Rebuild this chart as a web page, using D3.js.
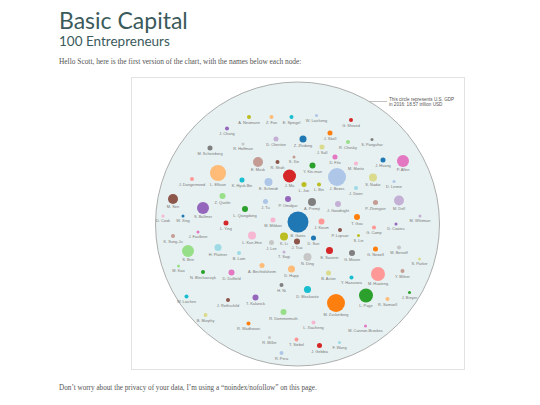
<!DOCTYPE html>
<html>
<head>
<meta charset="utf-8">
<script src="https://cdn.jsdelivr.net/npm/d3@7"></script>
<style>
  html, body { margin: 0; padding: 0; background: #fff; }
  svg { display: block; }
</style>
</head>
<body>
<svg id="chart" width="540" height="405"></svg>
<script>
// ---------------- DATA ----------------
const gdpValue = 18570; // U.S. GDP 2016, billion USD

const names = [
  "A. Neumann","Z. Fan","E. Spiegel","W. Laisheng","G. Shroed","J. Chang","J. Skoll","R. Hoffman","M. Scheinberg","D. Cheriton",
  "Z. Zhidong","R. Chesky","S. Panguhar","J. Sall","D. Filo","S. Xie","E. Musk","R. Shah","Y. Kin-man","M. Moritz",
  "J. Huang","P. Allen","L. Ellison","J. Dangermond","K. Hyuk-Bin","E. Schmidt","J. Ma","L. Jun","L. Bin","J. Bezos",
  "J. Doerr","S. Nadar","D. Leone","Z. Quofei","M. Sen","S. Ballmer","L. Qiangdong","J. Tu","P. Omidyar","D. Cook",
  "W. Xing","L. Ying","M. Mildani","B. Gates","J. Faulkner","K. Sung-Ju","L. Kun-Hee","J. Lee","K. Li","J. Tsai",
  "S. Brin","H. Plattner","B. Lam","T. Sagi","M. Kao","N. Blecharczyk","D. Duffield","A. Bechtolsheim","D. Happ","A. Premji",
  "J. Goodnight","P. Zhengxin","M. Dell","T. Gou","J. Koum","G. Camp","D. Coates","P. Lupsan","S. Lin","D. Sun",
  "E. Saverin","G. Moore","G. Newell","M. Benioff","N. Ding","M. Whitman","S. Parker","Y. Milner","B. Acton","Y. Hazarova",
  "M. Huateng","D. Moskovitz","M. Zuckerberg","L. Page","R. Samuell","J. Breyer","L. Xiacheng","M. Cannon-Brookes","T. Siebel","J. Gebbia",
  "F. Wang","H. Ni","W. Laichen","J. Rothschild","T. Kalanick","B. Murphy","R. Dommermuth","R. Wadhwani","R. Miller","R. Pera"
];

// layout coordinates of each node (same units as the GDP circle, whose extent is 155.5..439.5 / 82..366)
const posX = [
  249,271.5,291.5,316.5,351,227,330,243,210,276,
  303,348,372,322,335,294,258,277.5,312.5,356,
  383,403,218,192,242,268.5,289.5,304,319,337,
  356,373,394,222.5,173,203,245,265.5,288,163,
  183,226,273,298,198,173,252,271.5,284,297,
  188,218,239,284,178.5,203,231.5,262,291.5,312,
  338,375.5,399,357,321.5,374,396,340,358.5,313.5,
  329.5,352,375.5,399,307.5,420,419.5,402.5,328.5,351.5,
  378,307.5,336,366,387.5,409.5,313.5,365.5,296.5,319.5,
  339.5,281.5,186.5,228,255.5,205.5,283.5,248.5,269.5,281.5
];
const posY = [
  117,117,117,115.5,120,128.5,133,144,148,139,
  139,142,139.5,147,157,157,162,162,165.5,163.5,
  160,161,173,179,180,182,176,184.5,184.5,177,
  188,177.5,181.5,196,199,208,209,201.5,199,216,
  216,223,220,222,232,236,235.5,242.5,236.5,241.5,
  251,247.5,253,252,266,272,272.5,265.5,269,202,
  204,202.5,200.5,217,221.5,227.5,224,230,235.5,238,
  250.5,253,249,247.5,257,216,259,271,273,277.5,
  274,289.5,303,295.5,299,292.5,322.5,326,339.5,345.5,
  342.5,285,296.5,300,297.5,315,312,323.5,337.5,353
];

// estimated net worth, billion USD (read from bubble areas relative to the GDP circle)
const worth = [
  3.7,3.7,3.7,2.1,3.7,3.7,5.8,2.1,5.8,5.8,
  11.3,3.7,2.1,5.8,5.8,2.1,23,3.7,8.3,3.7,
  5.8,33,59,3.7,5.8,14.7,39,5.8,3.7,74.5,
  3.7,14.7,2.1,8.3,23,33,8.3,5.8,8.3,2.1,
  2.1,5.8,5.8,101,2.1,3.7,14.7,5.8,14.7,8.3,
  33,11.3,3.7,2.1,2.1,3.7,8.3,5.8,11.3,14.7,
  8.3,5.8,23,8.3,8.3,3.7,2.1,3.7,2.1,5.8,
  11.3,8.3,5.8,3.7,14.7,2.1,2.1,3.7,5.8,3.7,
  45,11.3,74.5,45,3.7,2.1,3.7,2.1,3.7,5.8,
  2.1,3.7,3.7,3.7,8.3,3.7,8.3,3.7,2.1,3.7
];

// color group of each node (index in the 20-colour categorical palette)
const group = [
  16,3,18,1,6,8,2,15,14,9,
  0,5,14,17,12,11,11,10,4,13,
  0,12,3,7,18,1,6,16,16,1,
  19,17,1,5,10,8,4,1,8,13,
  0,6,13,0,12,11,13,15,16,10,
  5,19,19,9,5,4,12,3,3,14,
  9,11,9,2,7,7,8,10,16,0,
  6,14,2,15,15,9,17,11,17,18,
  7,18,2,4,3,4,13,12,7,6,
  19,14,18,10,8,17,5,2,15,1
];

const palette = ["#1f77b4","#aec7e8","#ff7f0e","#ffbb78","#2ca02c","#98df8a","#d62728","#ff9896","#9467bd","#c5b0d5",
                 "#8c564b","#c49c94","#e377c2","#f7b6d2","#7f7f7f","#c7c7c7","#bcbd22","#dbdb8d","#17becf","#9edae5"];

// ---------------- DRAW ----------------
const svg = d3.select("#chart");

svg.append("text").attr("x", 59).attr("y", 28.5)
  .style("font-family", "Lato, 'Open Sans', sans-serif").style("font-size", "23px")
  .attr("fill", "#3b5a5b").text("Basic Capital");
svg.append("text").attr("x", 59).attr("y", 46)
  .style("font-family", "Lato, 'Open Sans', sans-serif").style("font-size", "13.5px")
  .attr("fill", "#3b5a5b").text("100 Entrepreneurs");
svg.append("text").attr("x", 59).attr("y", 64)
  .style("font-family", "'Liberation Serif', serif").style("font-size", "7.4px")
  .attr("fill", "#555").text("Hello Scott, here is the first version of the chart, with the names below each node:");
svg.append("text").attr("x", 59).attr("y", 390)
  .style("font-family", "'Liberation Serif', serif").style("font-size", "7.2px")
  .attr("fill", "#555").text("Don\u2019t worry about the privacy of your data, I\u2019m using a \u201cnoindex/nofollow\u201d on this page.");

// panel
svg.append("rect").attr("x", 131.5).attr("y", 77.5).attr("width", 333).attr("height", 292)
  .attr("fill", "#fff").attr("stroke", "#e2e2e2").attr("stroke-width", 1);

const cx = 297.5, cy = 224, R = 142;
const x = d3.scaleLinear().domain([155.5, 439.5]).range([cx - R, cx + R]);
const y = d3.scaleLinear().domain([82, 366]).range([cy - R, cy + R]);
const r = d3.scaleSqrt().domain([0, gdpValue]).range([0, R]);
const color = d3.scaleOrdinal().domain(d3.range(20)).range(palette);

svg.append("circle").attr("cx", cx).attr("cy", cy).attr("r", r(gdpValue))
  .attr("fill", "#e7f1f1").attr("stroke", "#9a9a9a").attr("stroke-width", 0.8);

// annotation
const ay = 101.5;
const ax0 = cx + Math.sqrt(R * R - (ay - cy) * (ay - cy));
svg.append("line").attr("x1", ax0).attr("y1", ay).attr("x2", 387).attr("y2", ay)
  .attr("stroke", "#999").attr("stroke-width", 0.6);
const ann = svg.append("text").attr("x", 389).attr("y", 101)
  .style("font-family", "'Liberation Sans', Arial, sans-serif").style("font-size", "4.6px").attr("fill", "#555");
ann.append("tspan").attr("x", 389).attr("dy", 0).text("This circle represents U.S. GDP");
ann.append("tspan").attr("x", 389).attr("dy", 5.2).text("in 2016: 18.57 trillion USD");

const nodes = names.map((n, i) => ({ name: n, x: posX[i], y: posY[i], v: worth[i], g: group[i] }));

const g = svg.append("g");
const node = g.selectAll("g.node").data(nodes).join("g").attr("class", "node");
node.append("circle")
  .attr("cx", d => x(d.x)).attr("cy", d => y(d.y)).attr("r", d => r(d.v))
  .attr("fill", d => color(d.g));
node.append("text")
  .attr("x", d => x(d.x)).attr("y", d => y(d.y) + r(d.v) + 4.5)
  .attr("text-anchor", "middle")
  .style("font-family", "'Liberation Sans', Arial, sans-serif").style("font-size", "3.9px")
  .attr("fill", "#777").text(d => d.name);
</script>
</body>
</html>
